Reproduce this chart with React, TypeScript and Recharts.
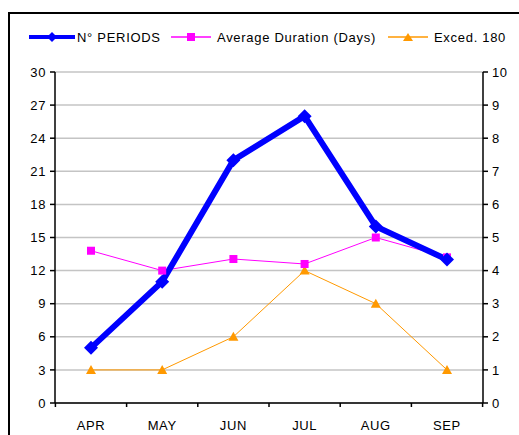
import { LineChart, Line, XAxis, YAxis, CartesianGrid } from "recharts";

const months = ["APR", "MAY", "JUN", "JUL", "AUG", "SEP"];
const periods = [5, 11, 22, 26, 16, 13];
const avgDuration = [4.6, 4.0, 4.35, 4.2, 5.0, 4.4];
const exced180 = [1, 1, 2, 4, 3, 1];
const leftTicks = [0, 3, 6, 9, 12, 15, 18, 21, 24, 27, 30];
const rightTicks = [0, 1, 2, 3, 4, 5, 6, 7, 8, 9, 10];

const data = months.map((m, i) => ({
  month: m,
  periods: periods[i],
  avg: avgDuration[i],
  exced: exced180[i],
}));

const FONT = "'Liberation Sans', Arial, sans-serif";
const BLUE = "#0000ff";
const MAGENTA = "#ff00ff";
const ORANGE = "#ff9900";
const HALF_STEP = 35.6;

const tickStyle = { fill: "#000", fontSize: 13, fontFamily: FONT, letterSpacing: 0.6 };

function Diamond({ cx, cy, s = 7 }: any) {
  if (cx == null || cy == null) return null;
  return (
    <path
      d={`M${cx},${cy - s} L${cx + s},${cy} L${cx},${cy + s} L${cx - s},${cy} Z`}
      fill={BLUE}
    />
  );
}

function Square({ cx, cy }: any) {
  if (cx == null || cy == null) return null;
  return <rect x={cx - 4} y={cy - 4} width={8} height={8} fill={MAGENTA} />;
}

function Triangle({ cx, cy }: any) {
  if (cx == null || cy == null) return null;
  return (
    <path
      d={`M${cx},${cy - 5} L${cx + 5},${cy + 4} L${cx - 5},${cy + 4} Z`}
      fill={ORANGE}
    />
  );
}

function MonthTick(props: any) {
  const { x, y, payload, index } = props;
  const last = index === months.length - 1;
  const axisY = y - 8;
  return (
    <g>
      <line x1={x - HALF_STEP} x2={x - HALF_STEP} y1={axisY} y2={axisY + 4} stroke="#000" strokeWidth={1.5} />
      {last && (
        <line x1={x + HALF_STEP} x2={x + HALF_STEP} y1={axisY} y2={axisY + 4} stroke="#000" strokeWidth={1.5} />
      )}
      <text x={x} y={axisY + 27} textAnchor="middle" {...tickStyle}>
        {payload.value}
      </text>
    </g>
  );
}

function LegendItem({ left, width, gap, color, label, marker, thick }: any) {
  return (
    <div style={{ position: "absolute", left, top: 29, height: 16, display: "flex", alignItems: "center" }}>
      <svg width={width} height={16}>
        <line x1={0} x2={width} y1={8} y2={8} stroke={color} strokeWidth={thick ? 4 : 1.5} />
        {marker}
      </svg>
      <span
        style={{
          fontFamily: FONT,
          fontSize: 13,
          letterSpacing: 0.7,
          marginLeft: gap,
          color: "#000",
          whiteSpace: "nowrap",
        }}
      >
        {label}
      </span>
    </div>
  );
}

export default function App() {
  return (
    <div style={{ position: "fixed", left: 0, top: 0, width: 519, height: 435, overflow: "hidden", background: "#fff" }}>
      <div
        style={{
          position: "absolute",
          left: 8,
          top: 12,
          width: 600,
          height: 500,
          border: "2px solid #000",
        }}
      />
      <LegendItem
        left={29}
        width={46}
        gap={2}
        color={BLUE}
        label="N° PERIODS"
        thick
        marker={<Diamond cx={23} cy={8} s={5} />}
      />
      <LegendItem
        left={171}
        width={40}
        gap={6}
        color={MAGENTA}
        label="Average Duration (Days)"
        marker={<rect x={16} y={4} width={8} height={8} fill={MAGENTA} />}
      />
      <LegendItem
        left={388}
        width={40}
        gap={6}
        color={ORANGE}
        label="Exced. 180"
        marker={<path d="M20,4 L25,12 L15,12 Z" fill={ORANGE} />}
      />
      <div style={{ position: "absolute", left: 0, top: 0 }}>
        <LineChart width={519} height={435} data={data} margin={{ top: 72, right: 0, bottom: 0, left: 0 }}>
          <CartesianGrid yAxisId="left" vertical={false} stroke="#c4c4c4" strokeWidth={1.5} />
          <XAxis
            dataKey="month"
            height={32}
            padding={{ left: 36, right: 36 }}
            tickLine={false}
            axisLine={{ stroke: "#000", strokeWidth: 1.5 }}
            tick={<MonthTick />}
            interval={0}
          />
          <YAxis
            yAxisId="left"
            width={55}
            domain={[0, 30]}
            ticks={leftTicks}
            interval={0}
            tick={tickStyle}
            tickSize={5}
            tickMargin={4}
            axisLine={{ stroke: "#000", strokeWidth: 1.5 }}
            tickLine={{ stroke: "#000", strokeWidth: 1.5 }}
          />
          <YAxis
            yAxisId="right"
            orientation="right"
            width={36}
            domain={[0, 10]}
            ticks={rightTicks}
            interval={0}
            tick={tickStyle}
            tickSize={5}
            tickMargin={4}
            axisLine={{ stroke: "#000", strokeWidth: 1.5 }}
            tickLine={{ stroke: "#000", strokeWidth: 1.5 }}
          />
          <Line
            yAxisId="right"
            dataKey="exced"
            stroke={ORANGE}
            strokeWidth={1}
            dot={<Triangle />}
            activeDot={false}
            isAnimationActive={false}
          />
          <Line
            yAxisId="right"
            dataKey="avg"
            stroke={MAGENTA}
            strokeWidth={1}
            dot={<Square />}
            activeDot={false}
            isAnimationActive={false}
          />
          <Line
            yAxisId="left"
            dataKey="periods"
            stroke={BLUE}
            strokeWidth={6}
            dot={<Diamond />}
            activeDot={false}
            isAnimationActive={false}
          />
        </LineChart>
      </div>
    </div>
  );
}
